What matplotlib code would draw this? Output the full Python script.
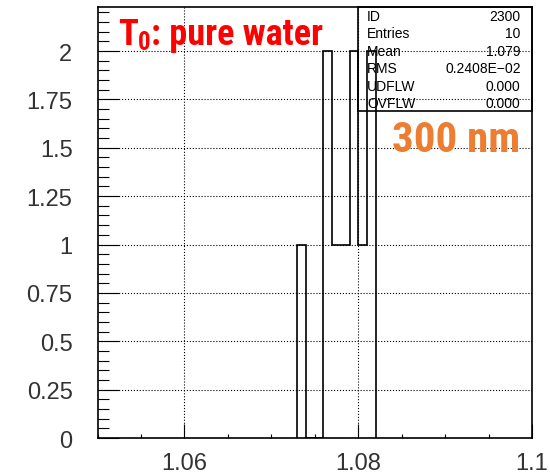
import matplotlib
matplotlib.use('Agg')
import matplotlib.pyplot as plt
from matplotlib.ticker import FixedLocator, MultipleLocator
from matplotlib.patches import Rectangle

# histogram contents (bins of 0.001)
bin_edges = [1.073, 1.074, 1.075, 1.076, 1.077, 1.078, 1.079, 1.080, 1.081, 1.082]
counts = [1, 0, 0, 2, 1, 1, 2, 1, 2]

stat_names = ['ID', 'Entries', 'Mean', 'RMS', 'UDFLW', 'OVFLW']
stat_values = ['2300', '10', '1.079', '0.2408E\u221202', '0.000', '0.000']

x_ticks = [1.06, 1.08, 1.1]
x_labels = ['1.06', '1.08', '1.1']
y_ticks = [0, 0.25, 0.5, 0.75, 1, 1.25, 1.5, 1.75, 2]
y_labels = ['0', '0.25', '0.5', '0.75', '1', '1.25', '1.5', '1.75', '2']

narrow = ['Roboto Condensed', 'Liberation Sans']

W, H = 550, 477
fig = plt.figure(figsize=(5.5, 4.77), dpi=100)
ax = fig.add_axes([97.5 / W, 1 - 439 / H, 434.5 / W, 430.7 / H])

ax.stairs(counts, bin_edges, color='black', lw=1.2, zorder=3)
ax.set_xlim(1.05, 1.1)
ax.set_ylim(0, 2.226)

ax.xaxis.set_major_locator(FixedLocator(x_ticks))
ax.xaxis.set_minor_locator(MultipleLocator(0.005))
ax.set_xticklabels(x_labels)
ax.yaxis.set_major_locator(FixedLocator(y_ticks))
ax.yaxis.set_minor_locator(MultipleLocator(0.05))
ax.set_yticklabels(y_labels)

ax.grid(True, which='major', ls=':', color='black', lw=0.8)
ax.set_axisbelow(True)
ax.tick_params(top=False, right=False, which='both', direction='in', width=0.8,
               labelsize=17, labelcolor='#333333')
ax.tick_params(axis='x', which='major', length=10, pad=10)
ax.tick_params(axis='x', which='minor', length=3)
ax.tick_params(axis='y', which='major', length=15, pad=18)
ax.tick_params(axis='y', which='minor', length=8)
for lab in ax.get_xticklabels() + ax.get_yticklabels():
    lab.set_family('Liberation Sans')
for s in ax.spines.values():
    s.set_linewidth(1.2)

# statistics box
ax.add_patch(Rectangle((0.6, 0.759), 0.4, 0.241, transform=ax.transAxes,
                       fill=False, lw=1.2, color='black', clip_on=False, zorder=4))
for i, (n, v) in enumerate(zip(stat_names, stat_values)):
    yy = (439 - (16.7 + 17.5 * i)) / 430.7
    ax.text(0.62, yy, n, transform=ax.transAxes, va='center', ha='left',
            fontsize=10, family='Liberation Sans')
    ax.text(0.974, yy, v, transform=ax.transAxes, va='center', ha='right',
            fontsize=10, family='Liberation Sans')

# red label with subscript, built piece by piece
r = fig.canvas.get_renderer()
yb = 1 - 45 / H
kw = dict(color='#FF0000', fontweight='bold', family=narrow, va='baseline', ha='left')
t1 = fig.text(117.7 / W, yb, 'T', fontsize=26.5, **kw)
bb = t1.get_window_extent(r)
t2 = fig.text((bb.x1 + 0.5) / W, yb - 5 / H, '0', fontsize=18, **kw)
bb = t2.get_window_extent(r)
fig.text((bb.x1 + 0.5) / W, yb, ': pure water', fontsize=26, **kw)

fig.text(391.7 / W, 1 - 152 / H, '300 nm', color='#ED7D31',
         fontsize=31, fontweight='bold', family=narrow, va='baseline', ha='left')

fig.savefig('out.png', dpi=100)
